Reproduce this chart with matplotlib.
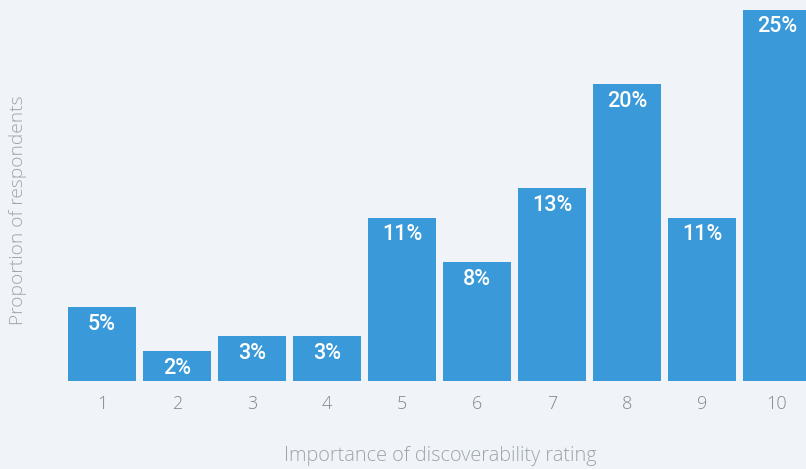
import matplotlib
matplotlib.use("Agg")
import matplotlib.pyplot as plt

ratings = ["1", "2", "3", "4", "5", "6", "7", "8", "9", "10"]
shares = [5, 2, 3, 3, 11, 8, 13, 20, 11, 25]

bg = "#f0f4f8"
bar_color = "#3a9ad9"
text_grey = "#9ba5ae"
tick_grey = "#7f8890"

plt.rcParams["font.family"] = ["Open Sans", "DejaVu Sans"]

fig = plt.figure(figsize=(8.06, 4.69), dpi=100, facecolor=bg)
ax = fig.add_axes([0, (469 - 381) / 469, 1, 381 / 469])
ax.set_facecolor(bg)

x = list(range(1, len(ratings) + 1))
bars = ax.bar(x, shares, width=68 / 75, color=bar_color)
ax.set_xlim(1 - 102 / 75, 1 + 704 / 75)
ax.set_ylim(0, 25.64)

for rect, v in zip(bars, shares):
    ax.annotate(f"{v}%", (rect.get_x() + rect.get_width() / 2, rect.get_height()),
                xytext=(0, -5), textcoords="offset points", ha="center", va="top",
                color="white", fontsize=15.5, fontweight="medium",
                family=["Roboto", "DejaVu Sans"])

for s in ax.spines.values():
    s.set_visible(False)
ax.set_yticks([])
ax.set_xticks(x)
ax.set_xticklabels(ratings)
ax.tick_params(axis="x", length=0, pad=10, labelsize=13, labelcolor=tick_grey)
for lab in ax.get_xticklabels():
    lab.set_fontweight("light")

fig.text(440 / 806, 1 - 456 / 469, "Importance of discoverability rating",
         ha="center", va="center", fontsize=14.3, color=text_grey, fontweight="light")
fig.text(18 / 806, 1 - 210 / 469, "Proportion of respondents", rotation=90,
         ha="center", va="center", fontsize=13.8, color=text_grey, fontweight="light")

fig.savefig("out.png", dpi=100, facecolor=bg)
